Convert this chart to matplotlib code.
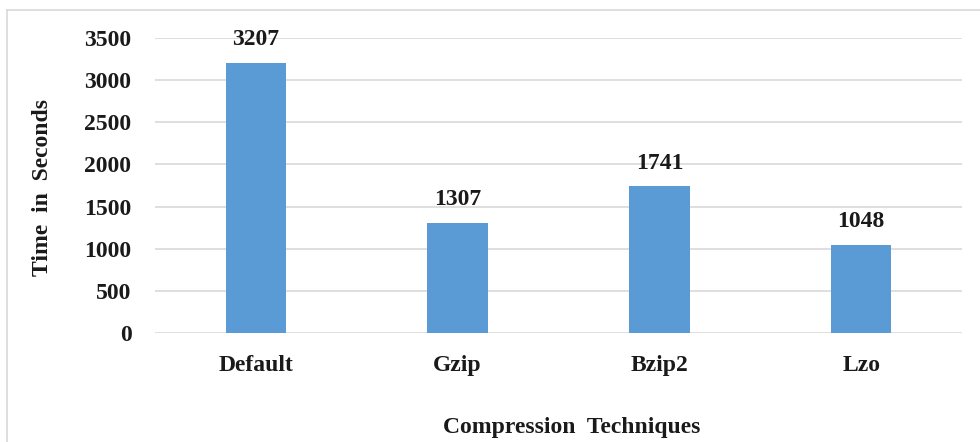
import matplotlib
matplotlib.use("Agg")
import matplotlib.pyplot as plt
from matplotlib.lines import Line2D

categories = ["Default", "Gzip", "Bzip2", "Lzo"]
values = [3207, 1307, 1741, 1048]
yticks = [0, 500, 1000, 1500, 2000, 2500, 3000, 3500]

plt.rcParams['font.family'] = ['Liberation Serif', 'DejaVu Serif']
plt.rcParams['font.weight'] = 'bold'

FS = 17
TXT = "#1a1a1a"

fig = plt.figure(figsize=(9.8, 4.42), dpi=100)
ax = fig.add_axes([155/980, 1-333/442, (962-155)/980, (333-38)/442])

x = list(range(len(categories)))
ax.bar(x, values, width=0.30, color="#5B9BD5", zorder=3)
for xi, v in zip(x, values):
    ax.annotate(f"{v}", (xi, v), xytext=(0, 9), textcoords="offset points",
                ha="center", va="bottom", fontsize=FS, fontweight="bold", color=TXT)

ax.set_xlim(-0.5, len(categories)-0.5)
ax.set_ylim(0, 3500)
ax.set_yticks(yticks)
ax.set_xticks(x)
ax.set_xticklabels(categories)
ax.grid(axis="y", color="#d9d9d9", linewidth=1.2, zorder=0)
ax.tick_params(axis="both", length=0, labelsize=FS, colors=TXT)
ax.tick_params(axis="y", pad=17)
ax.tick_params(axis="x", pad=16)
for lbl in ax.get_xticklabels() + ax.get_yticklabels():
    lbl.set_fontweight("bold")
for s in ax.spines.values():
    s.set_visible(False)

fig.text(42/980, 1-187/442, "Time  in  Seconds", rotation=90, ha="center", va="center",
         fontsize=FS, fontweight="bold", color=TXT)
fig.text(572/980, 1-428/442, "Compression  Techniques", ha="center", va="center",
         fontsize=FS, fontweight="bold", color=TXT)

# figure frame
fig.add_artist(Line2D([7/980, 7/980], [0, 1-10/442], transform=fig.transFigure, color="#d9d9d9", lw=1.2))
fig.add_artist(Line2D([7/980, 1], [1-10/442, 1-10/442], transform=fig.transFigure, color="#d9d9d9", lw=1.2))

fig.savefig("out.png", dpi=100)
